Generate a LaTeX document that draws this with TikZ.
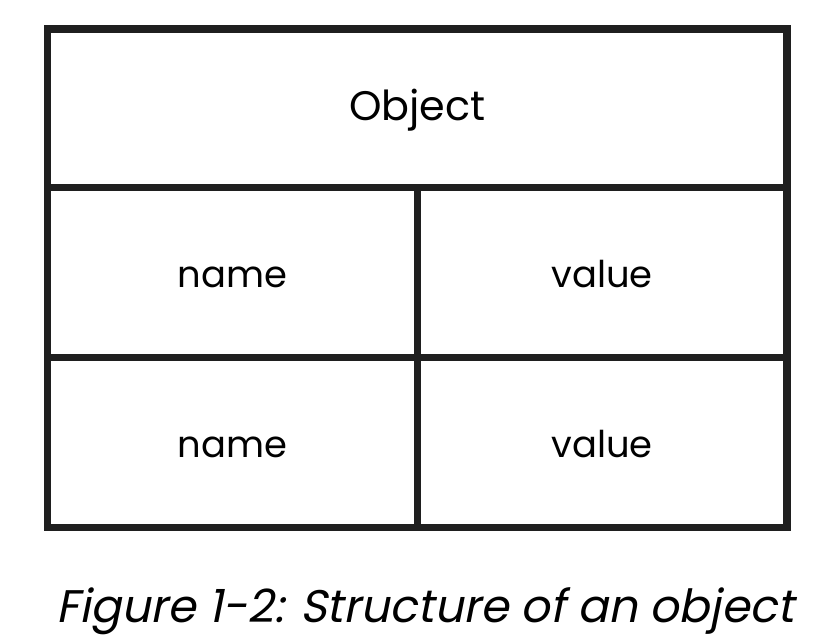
\documentclass[tikz,border=0pt]{standalone}
\usepackage{fontspec}
\setmainfont{Poppins}
\newfontfamily\capfont[FakeSlant=0.2]{Poppins}
\usetikzlibrary{positioning}
\tikzset{
    cell/.style={
        rectangle,
        draw=black!88,
        line width=0.15cm,
        outer sep=0pt,
        inner sep=0pt,
        minimum width=7.4cm,
        minimum height=3.4cm,
        text height=0.62cm,
        text depth=0cm,
        align=center,
        font=\fontsize{21}{24}\selectfont
    },
    head/.style={
        cell,
        minimum width=14.79cm,
        minimum height=3.17cm,
        text height=0.48cm,
        font=\fontsize{23.5}{27}\selectfont
    },
    caption/.style={
        anchor=base,
        inner sep=0pt,
        font=\capfont\fontsize{26}{30}\selectfont
    }
}
\begin{document}
\begin{tikzpicture}[x=0.02cm, y=-0.02cm]
    \useasboundingbox (0,0) rectangle (814,642);

    % Header
    \node[head, anchor=north west] (obj) at (47.5,29) {Object};

    % First pair
    \node[cell, anchor=north west] (n1) at (obj.south west) {name};
    \node[cell, anchor=north west, minimum width=7.39cm] (v1) at (n1.north east) {value};

    % Second pair
    \node[cell, anchor=north west] (n2) at (n1.south west) {name};
    \node[cell, anchor=north west, minimum width=7.39cm] (v2) at (n2.north east) {value};

    % Caption
    \node[caption] (cap) at (425,622) {Figure 1-2: Structure of an object};

\end{tikzpicture}
\end{document}
